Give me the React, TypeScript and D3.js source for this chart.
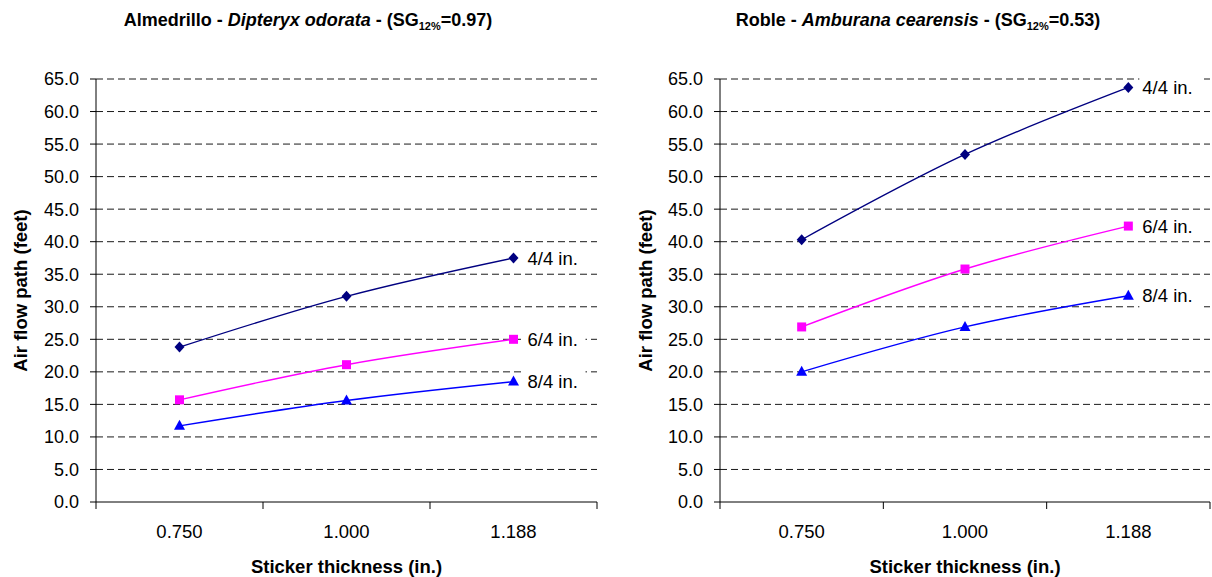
import * as d3 from "d3"

const categories = ["0.750", "1.000", "1.188"]
const seriesNames = ["4/4 in.", "6/4 in.", "8/4 in."]
const yTicks = [0, 5, 10, 15, 20, 25, 30, 35, 40, 45, 50, 55, 60, 65]

// Almedrillo
const almedrillo44 = [23.8, 31.6, 37.5]
const almedrillo64 = [15.7, 21.1, 25.0]
const almedrillo84 = [11.7, 15.6, 18.5]

// Roble
const roble44 = [40.3, 53.4, 63.7]
const roble64 = [26.9, 35.8, 42.4]
const roble84 = [20.0, 26.9, 31.7]

const colors = ["#000080", "#ff00ff", "#0000ff"]
const font = "'Liberation Sans', Arial, sans-serif"

interface PanelProps {
  left: number
  right: number
  titleX: number
  yTitleX: number
  common: string
  species: string
  sg: string
  series: number[][]
}

function Marker({ kind, x, y, color }: { kind: number; x: number; y: number; color: string }) {
  if (kind === 0) {
    return <path d={`M${x},${y - 5.5}L${x + 5},${y}L${x},${y + 5.5}L${x - 5},${y}Z`} fill={color} />
  }
  if (kind === 1) {
    return <rect x={x - 4.5} y={y - 4.5} width={9} height={9} fill={color} />
  }
  return <path d={`M${x},${y - 6}L${x + 5.5},${y + 4}L${x - 5.5},${y + 4}Z`} fill={color} />
}

function Panel({ left, right, titleX, yTitleX, common, species, sg, series }: PanelProps) {
  const top = 79
  const bottom = 502
  const x = d3.scaleBand<string>().domain(categories).range([left, right])
  const y = d3.scaleLinear().domain([0, 65]).range([bottom, top])
  const cx = (c: string) => x(c)! + x.bandwidth() / 2
  const line = d3
    .line<number>()
    .x((_, i) => cx(categories[i]))
    .y((d) => y(d))
    .curve(d3.curveCatmullRom.alpha(0.5))
  const boundaries = [...categories.map((c) => x(c)!), right]
  const last = categories[categories.length - 1]

  return (
    <g fontFamily={font}>
      <text x={titleX} y={26} textAnchor="middle" fontSize={18} fontWeight="bold">
        {common} - <tspan fontStyle="italic">{species}</tspan>
        {"  - (SG"}
        <tspan fontSize={11} dy={4}>12%</tspan>
        <tspan dy={-4}>={sg})</tspan>
      </text>

      {yTicks.map((t) => (
        <g key={t}>
          {t > 0 && (
            <line x1={left} x2={right} y1={y(t)} y2={y(t)} stroke="#1a1a1a" strokeDasharray="7,4" strokeWidth={1} />
          )}
          <line x1={left - 6} x2={left} y1={y(t)} y2={y(t)} stroke="#000" />
          <text x={left - 17} y={y(t)} dy="0.36em" textAnchor="end" fontSize={18}>
            {t.toFixed(1)}
          </text>
        </g>
      ))}

      <line x1={left} x2={left} y1={top} y2={bottom} stroke="#000" />
      <line x1={left} x2={right} y1={bottom} y2={bottom} stroke="#000" />
      {boundaries.map((b, i) => (
        <line key={i} x1={b} x2={b} y1={bottom} y2={bottom + 7} stroke="#000" />
      ))}
      {categories.map((c) => (
        <text key={c} x={cx(c)} y={538} textAnchor="middle" fontSize={18.5}>
          {c}
        </text>
      ))}

      <text x={(left + right) / 2} y={573} textAnchor="middle" fontSize={18.5} fontWeight="bold">
        Sticker thickness (in.)
      </text>
      <text
        transform={`translate(${yTitleX},${(top + bottom) / 2}) rotate(-90)`}
        textAnchor="middle"
        fontSize={18.5}
        fontWeight="bold"
      >
        Air flow path (feet)
      </text>

      {series.map((s, si) => (
        <g key={si}>
          <path d={line(s)!} fill="none" stroke={colors[si]} strokeWidth={1.4} />
          {s.map((v, i) => (
            <Marker key={i} kind={si} x={cx(categories[i])} y={y(v)} color={colors[si]} />
          ))}
          <rect x={cx(last) + 11} y={y(s[2]) - 15} width={61} height={30} fill="#fff" />
          <text x={cx(last) + 14} y={y(s[2])} dy="0.36em" fontSize={18.5}>
            {seriesNames[si]}
          </text>
        </g>
      ))}
    </g>
  )
}

export default function App() {
  return (
    <svg width={1212} height={577} style={{ position: "absolute", left: 0, top: 0, background: "#fff" }}>
      <Panel
        left={96}
        right={597}
        titleX={308}
        yTitleX={27}
        common="Almedrillo"
        species="Dipteryx odorata"
        sg="0.97"
        series={[almedrillo44, almedrillo64, almedrillo84]}
      />
      <Panel
        left={720}
        right={1210}
        titleX={918}
        yTitleX={652}
        common="Roble"
        species="Amburana cearensis"
        sg="0.53"
        series={[roble44, roble64, roble84]}
      />
    </svg>
  )
}
